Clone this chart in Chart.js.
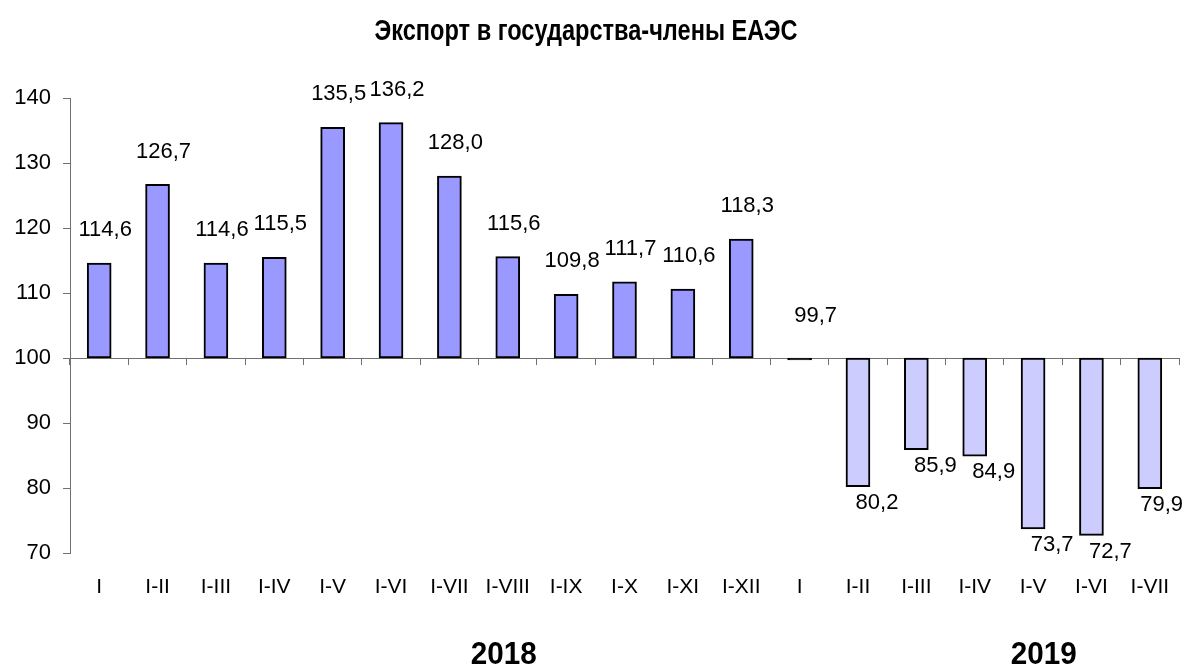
<!DOCTYPE html>
<html lang="ru">
<head>
<meta charset="utf-8">
<title>Экспорт в государства-члены ЕАЭС</title>
<script src="https://cdn.jsdelivr.net/npm/chart.js@4"></script>
<style>
    html, body { margin: 0; padding: 0; background: #fff; }
    #wrap { width: 1184px; height: 668px; position: relative; }
</style>
</head>
<body>
<div id="wrap"><canvas id="chart"></canvas></div>
<script>
// --- Datos ---
const chartTitle = 'Экспорт в государства-члены ЕАЭС';
const categories = ['I', 'I-II', 'I-III', 'I-IV', 'I-V', 'I-VI', 'I-VII', 'I-VIII', 'I-IX', 'I-X', 'I-XI', 'I-XII',
                    'I', 'I-II', 'I-III', 'I-IV', 'I-V', 'I-VI', 'I-VII'];
const values2018 = [114.6, 126.7, 114.6, 115.5, 135.5, 136.2, 128.0, 115.6, 109.8, 111.7, 110.6, 118.3];
const values2019 = [99.7, 80.2, 85.9, 84.9, 73.7, 72.7, 79.9];
const baseline = 100;
const yearLabels = ['2018', '2019'];
const yTicks = [70, 80, 90, 100, 110, 120, 130, 140];

const allValues = values2018.concat(values2019);
// Barras casi nulas se ven como una línea negra (solo borde)
const barColors = allValues.map((v, i) => {
    if (Math.abs(v - baseline) < 1) return '#000';
    return i < values2018.length ? '#9999ff' : '#ccccff';
});

const FONT = "'Liberation Sans', Arial, sans-serif";

function fmt(v) {
    return v.toFixed(1).replace('.', ',');
}

// Texto en negrita, comprimido en horizontal si supera el ancho deseado
function drawCondensed(ctx, text, cx, cy, size, width) {
    ctx.save();
    ctx.font = 'bold ' + size + 'px ' + FONT;
    const w = ctx.measureText(text).width;
    const sx = Math.min(1, width / w);
    ctx.translate(cx, cy);
    ctx.scale(sx, 1);
    ctx.fillStyle = '#000';
    ctx.textAlign = 'center';
    ctx.textBaseline = 'middle';
    ctx.fillText(text, 0, 0);
    ctx.restore();
}

// Etiquetas de valor encima / debajo de cada barra
const valueLabels = {
    id: 'valueLabels',
    afterDatasetsDraw(chart) {
        const ctx = chart.ctx;
        const meta = chart.getDatasetMeta(0);
        ctx.save();
        ctx.font = '22px ' + FONT;
        ctx.fillStyle = '#000';
        ctx.textAlign = 'center';
        ctx.textBaseline = 'middle';
        meta.data.forEach((bar, i) => {
            const v = allValues[i];
            const text = fmt(v);
            const half = ctx.measureText(text).width / 2;
            const top = Math.min(bar.y, bar.base);
            const bottom = Math.max(bar.y, bar.base);
            let x, y;
            if (Math.abs(v - baseline) < 1) {
                x = bar.x + 16; y = top - 42;
            } else if (v >= baseline) {
                x = bar.x + 6; y = top - 33;
            } else {
                x = bar.x + 19; y = bottom + 16;
            }
            // que no se corte en el borde derecho
            x = Math.min(x, chart.width - half - 1);
            ctx.fillText(text, x, y);
        });
        ctx.restore();
    }
};

// Título y años
const headerFooter = {
    id: 'headerFooter',
    afterDraw(chart) {
        const ctx = chart.ctx;
        const x = chart.scales.x;
        drawCondensed(ctx, chartTitle, 586, 32, 29, 423);
        const spots = [7, 16.25];
        yearLabels.forEach((t, i) => {
            drawCondensed(ctx, t, x.getPixelForValue(spots[i]) - 4, 655, 31, 66);
        });
    }
};

new Chart(document.getElementById('chart'), {
    type: 'bar',
    data: {
        labels: categories,
        datasets: [{
            data: allValues.map(v => [baseline, v]),
            backgroundColor: barColors,
            borderColor: '#000',
            borderWidth: 2,
            borderSkipped: false,
            barThickness: 24
        }]
    },
    options: {
        responsive: true,
        maintainAspectRatio: false,
        animation: false,
        layout: { padding: { left: 0, right: 5, top: 98, bottom: 0 } },
        scales: {
            x: {
                type: 'category',
                grid: { display: false },
                border: { display: false },
                ticks: { color: '#000', font: { family: FONT, size: 21 }, padding: 14, autoSkip: false, maxRotation: 0 },
                afterFit: (scale) => { scale.height = 115; }
            },
            x2: {
                type: 'category',
                labels: categories,
                position: { y: baseline },
                grid: { offset: true, drawOnChartArea: false, drawTicks: true, tickLength: 6, color: '#707070' },
                border: { color: '#707070', width: 1 },
                ticks: { display: false }
            },
            y: {
                min: 70,
                max: 140,
                afterBuildTicks: (scale) => { scale.ticks = yTicks.map(v => ({ value: v })); },
                grid: { drawOnChartArea: false, drawTicks: true, tickLength: 7, color: '#707070' },
                border: { color: '#707070', width: 1 },
                ticks: { color: '#000', font: { family: FONT, size: 22 }, padding: 12 },
                afterFit: (scale) => { scale.width = 70; }
            }
        },
        plugins: {
            legend: { display: false },
            tooltip: { enabled: false },
            title: { display: false }
        }
    },
    plugins: [valueLabels, headerFooter]
});
</script>
</body>
</html>
